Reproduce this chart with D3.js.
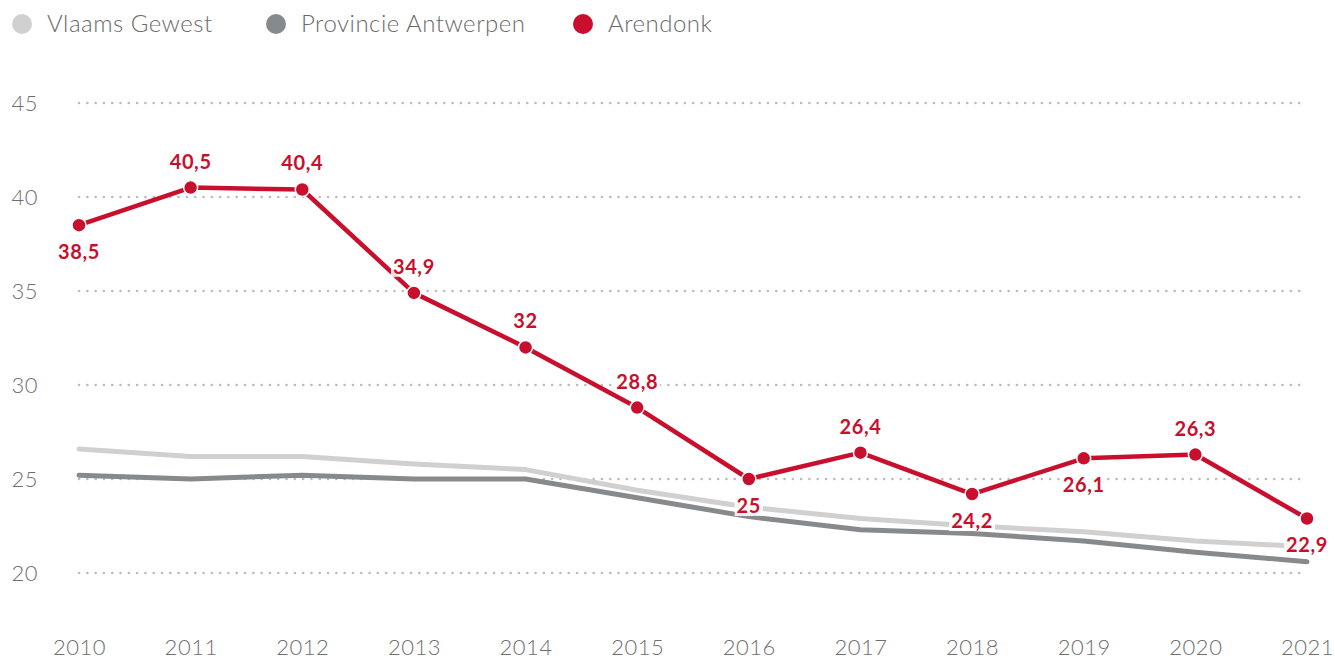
<!DOCTYPE html>
<html>
<head>
<meta charset="utf-8">
<script src="https://cdn.jsdelivr.net/npm/d3@7"></script>
<style>
  html, body { margin: 0; padding: 0; background: #fff; }
  svg { display: block; font-family: Lato, "Open Sans", sans-serif; }
</style>
</head>
<body>
<svg id="chart" width="1335" height="660"></svg>
<script>
// Years on the x axis
const years = [2010, 2011, 2012, 2013, 2014, 2015, 2016, 2017, 2018, 2019, 2020, 2021];

// Series values
const vlaamsGewest = [26.6, 26.2, 26.2, 25.8, 25.5, 24.4, 23.5, 22.9, 22.5, 22.2, 21.7, 21.4];
const provincieAntwerpen = [25.2, 25.0, 25.2, 25.0, 25.0, 24.0, 23.0, 22.3, 22.1, 21.7, 21.1, 20.6];
const arendonk = [38.5, 40.5, 40.4, 34.9, 32, 28.8, 25, 26.4, 24.2, 26.1, 26.3, 22.9];

// Where each Arendonk value label sits relative to its point
const labelSide = ["below", "above", "above", "above", "above", "above", "below", "above", "below", "below", "above", "below"];

// Y axis ticks
const yTicks = [20, 25, 30, 35, 40, 45];

const seriesNames = ["Vlaams Gewest", "Provincie Antwerpen", "Arendonk"];
const seriesColors = ["#cfd0cf", "#878a8d", "#c8102e"];

const svg = d3.select("#chart");

const x = d3.scalePoint().domain(years).range([79, 1307]);
const y = d3.scaleLinear().domain([20, 45]).range([573, 103]);

// Horizontal dotted grid
svg.append("g").selectAll("line")
  .data(yTicks)
  .join("line")
  .attr("x1", x(years[0]))
  .attr("x2", x(years[years.length - 1]))
  .attr("y1", d => y(d))
  .attr("y2", d => y(d))
  .attr("stroke", "#bdbdbd")
  .attr("stroke-width", 2.6)
  .attr("stroke-linecap", "round")
  .attr("stroke-dasharray", "0.1 8.2");

// Y axis labels
const yAxis = svg.append("g")
  .attr("transform", "translate(38,0)")
  .call(d3.axisLeft(y).tickValues(yTicks).tickSize(0).tickPadding(0));
yAxis.select(".domain").remove();
yAxis.selectAll("text")
  .attr("fill", "#6f6f6f")
  .attr("font-size", 22)
  .attr("font-weight", 300)
  .attr("letter-spacing", 0.5)
  .attr("font-family", "Lato, sans-serif");

// X axis labels
const xAxis = svg.append("g")
  .attr("transform", "translate(0,639)")
  .call(d3.axisBottom(x).tickSize(0).tickPadding(0).tickFormat(d3.format("d")));
xAxis.select(".domain").remove();
xAxis.selectAll("text")
  .attr("fill", "#6f6f6f")
  .attr("font-size", 22)
  .attr("font-weight", 300)
  .attr("letter-spacing", 0.5)
  .attr("font-family", "Lato, sans-serif");

const line = d3.line()
  .x((d, i) => x(years[i]))
  .y(d => y(d));

// Regional comparison lines
[vlaamsGewest, provincieAntwerpen].forEach((vals, k) => {
  svg.append("path")
    .datum(vals)
    .attr("d", line)
    .attr("fill", "none")
    .attr("stroke", seriesColors[k])
    .attr("stroke-width", 5)
    .attr("stroke-linecap", "round")
    .attr("stroke-linejoin", "round");
});

// Arendonk line
svg.append("path")
  .datum(arendonk)
  .attr("d", line)
  .attr("fill", "none")
  .attr("stroke", seriesColors[2])
  .attr("stroke-width", 4.5)
  .attr("stroke-linejoin", "round");

// Arendonk points with white rim
svg.append("g").selectAll("circle")
  .data(arendonk)
  .join("circle")
  .attr("cx", (d, i) => x(years[i]))
  .attr("cy", d => y(d))
  .attr("r", 7)
  .attr("fill", seriesColors[2])
  .attr("stroke", "#fff")
  .attr("stroke-width", 1.5);

// Value labels
const fmt = v => String(v).replace(".", ",");
const labels = svg.append("g").selectAll("g")
  .data(arendonk)
  .join("g")
  .attr("transform", (d, i) => `translate(${x(years[i])},${y(d) + (labelSide[i] === "above" ? -26 : 27)})`);

labels.append("text")
  .attr("text-anchor", "middle")
  .attr("dy", "0.35em")
  .attr("fill", seriesColors[2])
  .attr("font-size", 20)
  .attr("font-weight", 700)
  .attr("letter-spacing", 0.6)
  .attr("font-family", "Lato, sans-serif")
  .text(fmt);

labels.each(function () {
  const g = d3.select(this);
  const bb = g.select("text").node().getBBox();
  g.insert("rect", "text")
    .attr("x", bb.x - 2)
    .attr("y", bb.y + 1)
    .attr("width", bb.width + 4)
    .attr("height", bb.height - 2)
    .attr("fill", "#fff")
    .attr("fill-opacity", 0.85);
});

// Legend
const legendX = [22, 276, 583];
const legend = svg.append("g").selectAll("g")
  .data(seriesNames)
  .join("g")
  .attr("transform", (d, i) => `translate(${legendX[i]},24)`);
legend.append("circle")
  .attr("r", 10)
  .attr("fill", (d, i) => seriesColors[i]);
legend.append("text")
  .attr("x", 25)
  .attr("dy", "0.35em")
  .attr("fill", "#6a6a6a")
  .attr("font-size", 24)
  .attr("font-weight", 300)
  .attr("letter-spacing", 0.5)
  .attr("font-family", "Lato, sans-serif")
  .text(d => d);
</script>
</body>
</html>
